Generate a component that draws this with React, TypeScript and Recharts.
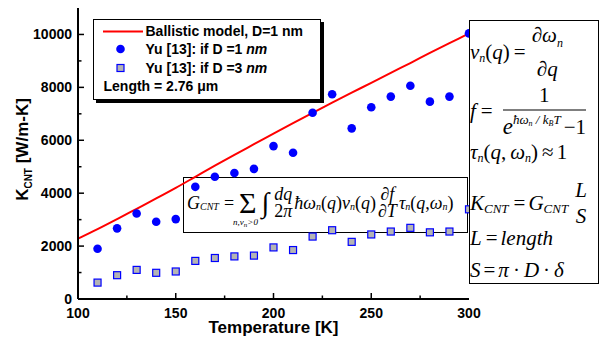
import React from 'react';
import { ComposedChart, Line, Scatter, XAxis, YAxis, Label } from 'recharts';

// ---------- data ----------
const modelTemps = [100, 110, 120, 130, 140, 150, 160, 170, 180, 190, 200, 210, 220, 230, 240, 250, 260, 270, 280, 290, 300];
const modelK = [2280, 2640, 3020, 3410, 3800, 4200, 4620, 5040, 5450, 5850, 6250, 6650, 7040, 7420, 7800, 8170, 8550, 8920, 9300, 9670, 10040];
const yuTemps = [110, 120, 130, 140, 150, 160, 170, 180, 190, 200, 210, 220, 230, 240, 250, 260, 270, 280, 290, 300];
const yuD1 = [1900, 2670, 3230, 2920, 3020, 4240, 4620, 4760, 4920, 5780, 5530, 7040, 7740, 6450, 7250, 7650, 8060, 7460, 7650, 10040];
const yuD3 = [620, 900, 1100, 990, 1040, 1440, 1550, 1610, 1640, 1950, 1850, 2360, 2600, 2160, 2440, 2550, 2690, 2520, 2550, 3390];
const xTicks = [100, 125, 150, 175, 200, 225, 250, 275, 300];
const yTicks = [0, 1000, 2000, 3000, 4000, 5000, 6000, 7000, 8000, 9000, 10000, 11000];

const modelData = modelTemps.map((t, i) => ({ t, k: modelK[i] }));
const d1Data = yuTemps.map((t, i) => ({ t, k: yuD1[i] }));
const d3Data = yuTemps.map((t, i) => ({ t, k: yuD3[i] }));

// ---------- styles ----------
const sans = '"Liberation Sans", Arial, Helvetica, sans-serif';
const serif = '"Liberation Serif", "Times New Roman", serif';
const axisLine = { stroke: '#000', strokeWidth: 2 };

// ---------- ticks ----------
const LeftTick = (p: any) => {
  const { x, y, payload } = p;
  const v = payload.value;
  const major = v % 2000 === 0;
  return (
    <g>
      {v > 0 && v < 11000 && (
        <line x1={x} x2={x + (major ? 6 : 3.5)} y1={y} y2={y} stroke="#000" strokeWidth={1.5} />
      )}
      {major && v <= 10000 && (
        <text x={x - 6} y={y} dy={5} textAnchor="end" fontFamily={sans} fontWeight="bold" fontSize={14} fill="#000">
          {v}
        </text>
      )}
    </g>
  );
};
const RightTick = (p: any) => {
  const { x, y, payload } = p;
  const v = payload.value;
  const major = v % 2000 === 0;
  if (v <= 0 || v >= 11000) return <g />;
  return <line x1={x} x2={x - (major ? 6 : 3.5)} y1={y} y2={y} stroke="#000" strokeWidth={1.5} />;
};
const BottomTick = (p: any) => {
  const { x, y, payload } = p;
  const v = payload.value;
  const major = v % 50 === 0;
  return (
    <g>
      {v > 100 && v < 300 && (
        <line x1={x} x2={x} y1={y} y2={y - (major ? 6 : 3.5)} stroke="#000" strokeWidth={1.5} />
      )}
      {major && (
        <text x={x} y={y + 18.5} textAnchor="middle" fontFamily={sans} fontWeight="bold" fontSize={14} fill="#000">
          {v}
        </text>
      )}
    </g>
  );
};
const TopTick = (p: any) => {
  const { x, y, payload } = p;
  const v = payload.value;
  const major = v % 50 === 0;
  if (v <= 100 || v >= 300) return <g />;
  return <line x1={x} x2={x} y1={y} y2={y + (major ? 6 : 3.5)} stroke="#000" strokeWidth={1.5} />;
};

const XTitle = (p: any) => {
  const vb = p.viewBox;
  return (
    <text x={vb.x + vb.width / 2} y={vb.y + 34} textAnchor="middle" fontFamily={sans} fontWeight="bold" fontSize={17} fill="#000">
      Temperature [K]
    </text>
  );
};
const YTitle = (p: any) => {
  const vb = p.viewBox;
  const cx = 28;
  const cy = vb.y + vb.height / 2 - 4;
  return (
    <text x={cx} y={cy} transform={`rotate(-90, ${cx}, ${cy})`} textAnchor="middle" fontFamily={sans} fontWeight="bold" fontSize={17} fill="#000">
      K<tspan fontSize={10} dy={4}>CNT</tspan>
      <tspan dy={-4}> [W/m-K]</tspan>
    </text>
  );
};

const Dot = (p: any) => <circle cx={p.cx} cy={p.cy} r={4.3} fill="#0000ff" />;
const Sq = (p: any) => (
  <rect x={p.cx - 3.5} y={p.cy - 3.5} width={7} height={7} fill="#b4b4b4" stroke="#0000ff" strokeWidth={1.2} />
);

// ---------- formula helpers ----------
const I = ({ children, s }: any) => <span style={{ fontStyle: 'italic', fontSize: s }}>{children}</span>;
const Sub = ({ children, s = 12, top = 5 }: any) => (
  <span style={{ fontStyle: 'italic', fontSize: s, position: 'relative', top, display: 'inline-block' }}>{children}</span>
);
const Frac = ({ num, den, gap = 4, bar = false, lh = 1 }: any) => (
  <span style={{ display: 'inline-flex', flexDirection: 'column', alignItems: 'center', margin: '0 2px' }}>
    <span style={{ lineHeight: lh, paddingBottom: gap, borderBottom: bar ? '1px solid #000' : '1px solid transparent', width: '100%', textAlign: 'center', whiteSpace: 'nowrap' }}>
      {num}
    </span>
    <span style={{ lineHeight: lh, paddingTop: gap, whiteSpace: 'nowrap' }}>{den}</span>
  </span>
);
const Row = ({ left, cy, children, size = 21 }: any) => (
  <div
    style={{
      position: 'absolute', left, top: cy, transform: 'translateY(-50%)', display: 'flex', alignItems: 'center',
      whiteSpace: 'nowrap', lineHeight: 1, fontFamily: serif, fontSize: size, color: '#000',
    }}
  >
    {children}
  </div>
);
const Sp = ({ w = 4 }: any) => <span style={{ display: 'inline-block', width: w }} />;

export default function App() {
  return (
    <div style={{ position: 'absolute', left: 0, top: 0, width: 604, height: 339, background: '#fff', overflow: 'hidden' }}>
      {/* G_CNT formula box (behind the data) */}
      <div style={{ position: 'absolute', left: 182.5, top: 177, width: 285, height: 56, border: '1px solid #000', boxSizing: 'border-box' }} />
      <Row left={187} cy={203} size={18}>
        <I>G</I><Sub s={10} top={4}>CNT</Sub>
        <Sp w={5} />=<Sp w={5} />
        <span style={{ position: 'relative', display: 'inline-block' }}>
          <span style={{ fontSize: 30 }}>Σ</span>
          <span style={{ position: 'absolute', left: -6, top: 30, fontSize: 9, fontStyle: 'italic', whiteSpace: 'nowrap' }}>
            n,v<span style={{ fontSize: 7, position: 'relative', top: 2 }}>n</span>&gt;0
          </span>
        </span>
        <span style={{ fontSize: 28, margin: '0 3px 0 5px' }}>∫</span>
        <Frac num={<I>dq</I>} den={<span>2<I>π</I></span>} gap={0.5} lh={0.85} />
        <I>ħω</I><Sub s={10} top={4}>n</Sub>(<I>q</I>)<I>v</I><Sub s={10} top={4}>n</Sub>(<I>q</I>)
        <Frac num={<span>∂<I>f</I></span>} den={<span>∂<I>T</I></span>} gap={0.5} lh={0.85} />
        <I>τ</I><Sub s={10} top={4}>n</Sub>(<I>q</I>,<I>ω</I><Sub s={10} top={4}>n</Sub>)
      </Row>

      <div style={{ position: 'absolute', left: 0, top: 0 }}>
        <ComposedChart width={604} height={339} margin={{ top: 8, right: 135, bottom: 0, left: 0 }}>
          <XAxis
            dataKey="t" type="number" domain={[100, 300]} ticks={xTicks} interval={0} height={40}
            axisLine={axisLine} tickLine={false} tickSize={0} tickMargin={0} tick={(p: any) => <BottomTick {...p} />}
          >
            <Label content={<XTitle />} />
          </XAxis>
          <XAxis
            xAxisId="top" orientation="top" dataKey="t" type="number" domain={[100, 300]} ticks={xTicks} interval={0} height={0}
            axisLine={axisLine} tickLine={false} tickSize={0} tickMargin={0} tick={(p: any) => <TopTick {...p} />}
          />
          <YAxis
            type="number" domain={[0, 11000]} ticks={yTicks} interval={0} width={78}
            axisLine={axisLine} tickLine={false} tickSize={0} tickMargin={0} tick={(p: any) => <LeftTick {...p} />}
          >
            <Label content={<YTitle />} />
          </YAxis>
          <YAxis
            yAxisId="right" orientation="right" type="number" domain={[0, 11000]} ticks={yTicks} interval={0} width={0}
            axisLine={axisLine} tickLine={false} tickSize={0} tickMargin={0} tick={(p: any) => <RightTick {...p} />}
          />
          <Line data={modelData} dataKey="k" type="monotone" stroke="#ff0000" strokeWidth={2} dot={false} activeDot={false} isAnimationActive={false} />
          <Scatter data={d1Data} dataKey="k" shape={(p: any) => <Dot {...p} />} isAnimationActive={false} />
          <Scatter data={d3Data} dataKey="k" shape={(p: any) => <Sq {...p} />} isAnimationActive={false} />
        </ComposedChart>
      </div>

      {/* Legend */}
      <div
        style={{
          position: 'absolute', left: 92.5, top: 18.5, width: 228, height: 81, border: '1.5px solid #000',
          boxShadow: '3px 3px 0 #000', background: '#fff', boxSizing: 'border-box', fontFamily: sans, fontWeight: 'bold', fontSize: 14, color: '#000',
        }}
      >
        <svg width={225} height={78} style={{ position: 'absolute', left: 0, top: 0 }}>
          <line x1={9} x2={49} y1={11.5} y2={11.5} stroke="#ff0000" strokeWidth={2} />
          <circle cx={26.5} cy={29} r={4.3} fill="#0000ff" />
          <rect x={23} y={44.5} width={7} height={7} fill="#b4b4b4" stroke="#0000ff" strokeWidth={1.2} />
        </svg>
        <div style={{ position: 'absolute', left: 52, top: 11.5, transform: 'translateY(-50%)', lineHeight: 1, whiteSpace: 'nowrap' }}>Ballistic model, D=1 nm</div>
        <div style={{ position: 'absolute', left: 52, top: 29, transform: 'translateY(-50%)', lineHeight: 1, whiteSpace: 'nowrap' }}>
          Yu [13]: if D =1 <i>nm</i>
        </div>
        <div style={{ position: 'absolute', left: 52, top: 48, transform: 'translateY(-50%)', lineHeight: 1, whiteSpace: 'nowrap' }}>
          Yu [13]: if D =3 <i>nm</i>
        </div>
        <div style={{ position: 'absolute', left: 10, top: 66.5, transform: 'translateY(-50%)', lineHeight: 1, whiteSpace: 'nowrap' }}>
          Length = 2.76 μm
        </div>
      </div>

      {/* right formula box */}
      <div style={{ position: 'absolute', left: 468.5, top: 20, width: 130, height: 264, border: '1.5px solid #000', background: '#fff', boxSizing: 'border-box' }} />
      <Row left={470} cy={52}>
        <I>v</I><Sub>n</Sub>(<I>q</I>)<Sp w={4} />=<Sp w={4} />
        <Frac num={<span>∂<I>ω</I><Sub>n</Sub></span>} den={<span>∂<I>q</I></span>} gap={6} />
      </Row>
      <Row left={470} cy={111}>
        <I>f</I><Sp w={5} />=<Sp w={8} />
        <Frac
          bar
          gap={4}
          num={<span>1</span>}
          den={
            <span>
              <I s={23}>e</I>
              <span style={{ fontSize: 13, fontStyle: 'italic', position: 'relative', top: -10 }}>
                ħω<span style={{ fontSize: 8, position: 'relative', top: 2 }}>n</span> / <i>k</i>
                <span style={{ fontSize: 8, position: 'relative', top: 2 }}>B</span>T
              </span>
              <Sp w={3} />−1
            </span>
          }
        />
      </Row>
      <Row left={470} cy={152}>
        <I>τ</I><Sub>n</Sub>(<I>q</I>,<Sp w={4} /><I>ω</I><Sub>n</Sub>)<Sp w={4} />≈<Sp w={3} />1
      </Row>
      <Row left={470} cy={203}>
        <I>K</I><Sub s={13}>CNT</Sub><Sp w={5} />=<Sp w={3} /><I>G</I><Sub s={13}>CNT</Sub><Sp w={5} />
        <Frac num={<I>L</I>} den={<I>S</I>} gap={2} />
      </Row>
      <Row left={470} cy={238}>
        <I>L</I><Sp w={4} />=<Sp w={3} /><I>length</I>
      </Row>
      <Row left={470} cy={270}>
        <I>S</I><Sp w={3} />=<Sp w={3} /><I>π</I><Sp w={4} />·<Sp w={4} /><I>D</I><Sp w={4} />·<Sp w={4} /><I>δ</I>
      </Row>
    </div>
  );
}
